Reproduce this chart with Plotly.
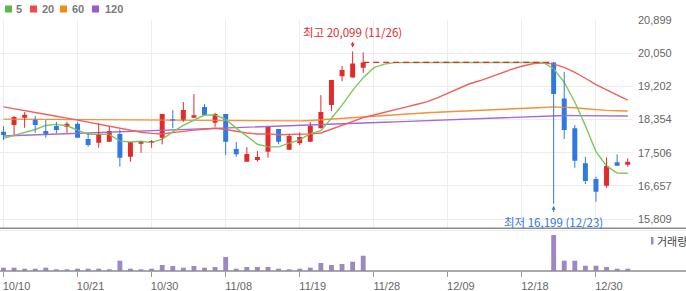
import plotly.graph_objects as go

# ---------------- data ----------------
dates = ["10/10","10/11","10/14","10/15","10/16","10/17","10/18","10/21","10/22","10/23",
         "10/24","10/25","10/28","10/29","10/30","10/31","11/01","11/04","11/05","11/06",
         "11/07","11/08","11/11","11/12","11/13","11/14","11/15","11/18","11/19","11/20",
         "11/21","11/22","11/25","11/26","11/27","11/28","11/29","12/02","12/03","12/04",
         "12/05","12/06","12/09","12/10","12/11","12/12","12/13","12/16","12/17","12/18",
         "12/19","12/20","12/23","12/24","12/26","12/27","12/30","01/02","01/03","01/06"]

H = None  # trading halt (no candle)
opens = [18042,18213,18400,18367,18060,18187,18170,18246,17855,17760,
         17786,17983,17402,17735,17770,17888,18367,18323,18400,18673,
         18272,18494,17599,17274,17318,17530,18111,17581,17745,17786,
         18129,18725,19466,19433,19679,H,H,H,H,H,
         H,H,H,H,H,H,H,H,H,H,
         H,H,19817,18896,18129,17233,16832,16661,17259,17198]
highs = [18187,18443,18546,18443,18341,18297,18297,18297,18000,18256,
         18170,18103,17778,17804,17829,18494,18597,18801,19006,18750,
         18527,18494,17778,17650,17548,18162,18111,17983,18026,18290,
         18980,19364,19722,20099,20073,H,H,H,H,H,
         H,H,H,H,H,H,H,H,H,H,
         H,H,19817,19576,18213,17402,16891,17387,17464,17361]
lows = [17829,17957,18144,18016,17888,18000,18016,17888,17658,17632,
        17778,17147,17275,17505,17632,17720,18129,18297,18400,18468,
        18170,17446,17402,17274,17274,17377,17720,17581,17702,17786,
        18129,18571,19338,19433,19551,H,H,H,H,H,
        H,H,H,H,H,H,H,H,H,H,
        H,H,16199,17855,17121,16704,16251,16609,17172,17147]
closes = [17957,18418,18477,18213,17957,18085,18246,17888,17702,17983,
          18060,17377,17778,17804,17804,18494,18323,18597,18468,18468,
          18494,17786,17464,17471,17394,18162,17786,17932,17906,18187,
          18545,19364,19620,19791,19817,19817,19817,19817,19817,19817,
          19817,19817,19817,19817,19817,19817,19817,19817,19817,19817,
          19817,19817,19006,18085,17300,16781,16507,17164,17172,17274]
volumes = [33000,33000,23000,23000,33000,13000,13000,23000,23000,23000,
           13000,103000,23000,13000,23000,60000,50000,33000,50000,33000,
           40000,140000,23000,40000,40000,40000,23000,13000,23000,33000,
           80000,60000,70000,93000,153000,H,H,H,H,H,
           H,H,H,H,H,H,H,H,H,H,
           H,H,360000,103000,103000,53000,53000,40000,23000,23000]

ma5 = [17873,17950,18020,18100,18204,18230,18196,18078,17976,17981,
       17976,17802,17780,17800,17765,17851,18041,18204,18337,18470,
       18470,18363,18136,17937,17722,17655,17655,17749,17836,17995,
       18071,18387,18724,19101,19427,19682,19772,19812,19817,19817,
       19817,19817,19817,19817,19817,19817,19817,19817,19817,19817,
       19817,19817,19655,19306,18805,18198,17536,17167,16985,16980]
ma20 = [18680,18635,18590,18540,18490,18440,18390,18340,18290,18240,
        18190,18130,18080,18030,18000,17985,18020,18060,18085,18105,
        18132,18100,18050,18012,17984,17988,17965,17967,17978,17988,
        18012,18111,18203,18303,18403,18470,18544,18605,18673,18740,
        18806,18908,19026,19143,19264,19347,19448,19543,19638,19720,
        19783,19806,19775,19690,19564,19412,19247,19114,18982,18855]
ma60 = [18366,18364,18362,18360,18358,18356,18354,18352,18350,18348,
        18346,18344,18342,18340,18338,18336,18334,18332,18330,18328,
        18326,18324,18322,18320,18319,18318,18318,18318,18320,18332,
        18350,18372,18394,18416,18438,18458,18476,18490,18503,18516,
        18530,18541,18552,18563,18574,18585,18595,18605,18620,18635,
        18650,18665,18680,18672,18655,18630,18605,18590,18580,18575]
ma120 = [17932,17942,17953,17963,17974,17984,17995,18005,18016,18026,
         18037,18047,18058,18068,18079,18089,18100,18110,18121,18131,
         18142,18152,18161,18170,18179,18188,18197,18206,18215,18224,
         18233,18242,18251,18260,18269,18278,18287,18296,18307,18318,
         18329,18340,18351,18362,18373,18384,18395,18406,18417,18428,
         18439,18450,18461,18458,18455,18452,18450,18448,18446,18445]

y_ticks = [15809,16657,17506,18354,19202,20050,20899]
x_tick_idx = [0,7,14,21,28,35,42,49,56]
ma_names = ["5","20","60","120"]

# ---------------- styles ----------------
UP = "#e22b2b"
DOWN = "#3079e2"
MA_COL = ["#7cc85c", "#f0605f", "#f4913a", "#a669d6"]
LEG_COL = ["#5cb945", "#ef4a4a", "#f28a1d", "#9a5bd2"]
VOL_COL = "#9d87c7"
GRID = "#ececec"

n = len(dates)
idx = list(range(n))

fig = go.Figure()

# moving averages
for vals, col in zip([ma120, ma60, ma20, ma5], MA_COL[::-1]):
    fig.add_trace(go.Scatter(x=idx, y=vals, mode="lines",
                             line=dict(color=col, width=1.4), hoverinfo="skip"))

# halt period: flat dashed price line
halt_x = [i for i in idx if opens[i] is None]
hx = [halt_x[0] - 1] + halt_x + [halt_x[-1] + 1]
hy = [closes[halt_x[0] - 1]] + [closes[i] for i in halt_x] + [opens[halt_x[-1] + 1]]
fig.add_trace(go.Scatter(x=hx, y=hy, mode="lines",
                         line=dict(color=UP, width=1.3, dash="6px,4px"), hoverinfo="skip"))

# candles
for up in (True, False):
    col = UP if up else DOWN
    sel = [i for i in idx if opens[i] is not None and ((closes[i] >= opens[i]) == up)]
    wx, wy = [], []
    for i in sel:
        wx += [i, i, None]
        wy += [lows[i], highs[i], None]
    fig.add_trace(go.Scatter(x=wx, y=wy, mode="lines", line=dict(color=col, width=1),
                             hoverinfo="skip"))
    base = [min(opens[i], closes[i]) for i in sel]
    hgt = [max(abs(closes[i] - opens[i]), 30) for i in sel]
    fig.add_trace(go.Bar(x=sel, y=hgt, base=base, width=0.47, marker_color=col,
                         marker_line_width=0, hoverinfo="skip"))

# volume
vx = [i for i in idx if volumes[i] is not None]
fig.add_trace(go.Bar(x=vx, y=[volumes[i] for i in vx], width=0.46, marker_color=VOL_COL,
                     marker_line_width=0, xaxis="x2", yaxis="y2", hoverinfo="skip"))

# ---------------- layout ----------------
PLOT_W = 633.0
PLOT_H = 251.0
VOL_TOP = (271 - 228.3) / PLOT_H


def px_x(p):
    return p / PLOT_W


def px_y(p):
    return (271 - p) / PLOT_H


fig.update_layout(
    width=686, height=291,
    margin=dict(l=0, r=53, t=20, b=20),
    plot_bgcolor="white", paper_bgcolor="white",
    showlegend=False, barmode="overlay",
    font=dict(family="Liberation Sans, Arial, sans-serif"),
    xaxis=dict(domain=[0, 1], anchor="y", range=[-0.33, 59.5],
               tickvals=x_tick_idx, showticklabels=False, ticks="",
               showgrid=True, gridcolor=GRID, gridwidth=1, zeroline=False, showline=False),
    yaxis=dict(domain=[VOL_TOP, 1], side="right", range=[15571, 20903],
               tickvals=y_ticks, ticktext=[f"{v:,}" for v in y_ticks],
               tickfont=dict(size=11, color="#666666"), ticks="", ticklabelstandoff=4,
               showgrid=True, gridcolor=GRID, gridwidth=1, zeroline=False, showline=False),
    xaxis2=dict(domain=[0, 1], anchor="y2", matches="x",
                tickvals=x_tick_idx, ticktext=[dates[i] for i in x_tick_idx],
                ticks="outside", ticklen=5, tickcolor="#999999", tickwidth=1,
                tickfont=dict(size=11, color="#666666"), ticklabelshift=13,
                showgrid=False, zeroline=False, showline=False),
    yaxis2=dict(domain=[0, VOL_TOP], range=[0, 427000], visible=False),
)

shapes = []
# panel separators (full width)
shapes.append(dict(type="line", xref="paper", yref="paper", x0=0, x1=686 / PLOT_W,
                   y0=VOL_TOP, y1=VOL_TOP, line=dict(color="#8c8c8c", width=1.6)))
shapes.append(dict(type="line", xref="paper", yref="paper", x0=0, x1=686 / PLOT_W,
                   y0=px_y(230.5), y1=px_y(230.5), line=dict(color="#eeeeee", width=1)))
shapes.append(dict(type="line", xref="paper", yref="paper", x0=0, x1=686 / PLOT_W,
                   y0=0, y1=0, line=dict(color="#8c8c8c", width=1.6)))

# top legend
leg_sq_x = [5, 30, 60, 92]
leg_tx_x = [14, 40, 70, 103]
annotations = []
for name, col, sx, tx in zip(ma_names, LEG_COL, leg_sq_x, leg_tx_x):
    shapes.append(dict(type="rect", xref="paper", yref="paper",
                       x0=px_x(sx), x1=px_x(sx + 7), y0=px_y(12.5), y1=px_y(5.5),
                       fillcolor=col, line=dict(width=0)))
    annotations.append(dict(xref="paper", yref="paper", x=px_x(tx), y=px_y(9),
                            text=f"<b>{name}</b>", showarrow=False, xanchor="left",
                            yanchor="middle", font=dict(size=11, color="#7a7a7a")))

# volume legend
shapes.append(dict(type="rect", xref="paper", yref="paper",
                   x0=px_x(651), x1=px_x(653.5), y0=px_y(244.5), y1=px_y(237),
                   fillcolor=VOL_COL, line=dict(width=0)))
annotations.append(dict(xref="paper", yref="paper", x=px_x(655), y=px_y(241),
                        text="거래량", showarrow=False, xanchor="left", yanchor="middle",
                        font=dict(size=11, color="#444444",
                                  family="Noto Sans CJK KR, sans-serif")))

# max / min annotations
valid = [i for i in idx if highs[i] is not None]
imax = max(valid, key=lambda i: highs[i])
imin = min(valid, key=lambda i: lows[i])
annotations.append(dict(x=imax, y=highs[imax], xref="x", yref="y",
                        text=f"최고 {highs[imax]:,} ({dates[imax]})",
                        showarrow=True, ax=0, ay=-19, standoff=4,
                        arrowhead=2, arrowsize=0.8, arrowwidth=1, arrowcolor=UP,
                        font=dict(size=11.5, color=UP, family="Noto Sans CJK KR, sans-serif")))
annotations.append(dict(x=imin, y=lows[imin], xref="x", yref="y",
                        text=f"최저 {lows[imin]:,} ({dates[imin]})",
                        showarrow=True, ax=0, ay=18, standoff=2,
                        arrowhead=2, arrowsize=0.8, arrowwidth=1, arrowcolor=DOWN,
                        font=dict(size=11.5, color=DOWN, family="Noto Sans CJK KR, sans-serif")))

fig.update_layout(shapes=shapes, annotations=annotations)

fig.write_html("out.html")
